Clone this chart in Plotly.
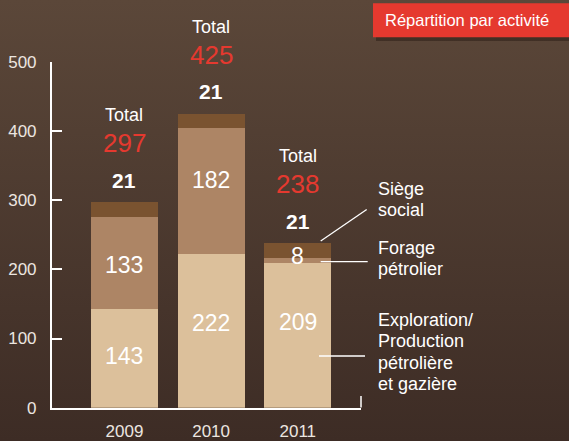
import base64
import plotly.graph_objects as go

W, H = 569, 441

# Data
years = ["2009", "2010", "2011"]
exploration = [143, 222, 209]
forage = [133, 182, 8]
siege = [21, 21, 21]
totals = [297, 425, 238]

col_explo = "#dcc09b"
col_forage = "#ad8565"
col_siege = "#7a5330"
red = "#e5392f"
font = "Liberation Sans, Arial, sans-serif"


def px(x):
    return x / W


def py(y):
    return 1 - y / H


fig = go.Figure()
for name, vals, col in [("Exploration/Production", exploration, col_explo),
                        ("Forage pétrolier", forage, col_forage),
                        ("Siège social", siege, col_siege)]:
    fig.add_trace(go.Bar(x=years, y=vals, name=name, marker_color=col,
                         marker_line_width=0, width=0.775, hoverinfo="skip"))

# gradient background as svg image
svg = ('<svg xmlns="http://www.w3.org/2000/svg" width="569" height="441">'
       '<defs><linearGradient id="g" x1="0" y1="0" x2="0" y2="1">'
       '<stop offset="0" stop-color="#5b4739"/><stop offset="1" stop-color="#3d2c25"/>'
       '</linearGradient></defs><rect width="569" height="441" fill="url(#g)"/></svg>')
src = "data:image/svg+xml;base64," + base64.b64encode(svg.encode()).decode()

ann = []
# totals above bars (x given as category index)
for i, (tot, top) in enumerate(zip(totals, siege)):
    ann.append(dict(x=i, y=tot, yshift=87, text="Total", showarrow=False,
                    font=dict(size=18, color="white", family=font), yanchor="middle"))
    ann.append(dict(x=i, y=tot, yshift=59, text=str(tot), showarrow=False,
                    font=dict(size=26, color=red, family=font), yanchor="middle"))
    ann.append(dict(x=i, y=tot, yshift=22, text="<b>%d</b>" % top, showarrow=False,
                    font=dict(size=21, color="white", family=font), yanchor="middle"))

# segment labels (nudged like the original)
shift_explo = [2, 8, 13]
shift_forage = [-2, 11, 0]
for i in range(len(years)):
    ann.append(dict(x=i, y=exploration[i] / 2, yshift=shift_explo[i], text=str(exploration[i]),
                    showarrow=False, font=dict(size=23, color="white", family=font)))
    if forage[i] > 20:
        ann.append(dict(x=i, y=exploration[i] + forage[i] / 2, yshift=shift_forage[i],
                        text=str(forage[i]), showarrow=False,
                        font=dict(size=23, color="white", family=font)))
    else:
        ann.append(dict(x=i, y=exploration[i] + forage[i] + siege[i] / 2, yshift=-6,
                        text=str(forage[i]), showarrow=False,
                        font=dict(size=23, color="white", family=font)))

# legend labels on the right
legend_lines = [(["Siège", "social"], 189), (["Forage", "pétrolier"], 248),
                (["Exploration/", "Production", "pétrolière", "et gazière"], 320)]
for lines, y0 in legend_lines:
    for k, t in enumerate(lines):
        ann.append(dict(xref="paper", yref="paper", x=px(376), y=py(y0 + k * 21.3),
                        xanchor="left", yanchor="middle", text=t, showarrow=False,
                        font=dict(size=18, color="white", family=font)))

# title box
ann.append(dict(xref="paper", yref="paper", x=px(383), y=py(20.5), xanchor="left",
                yanchor="middle", text="Répartition par activité", showarrow=False,
                font=dict(size=16.5, color="white", family=font)))

shapes = [
    dict(type="rect", xref="paper", yref="paper", x0=px(376), x1=px(572), y0=py(41),
         y1=py(6), fillcolor="rgba(20,10,5,0.35)", line_width=0, layer="below"),
    dict(type="rect", xref="paper", yref="paper", x0=px(373), x1=1, y0=py(37.3),
         y1=py(3.3), fillcolor=red, line_width=0),
    # leader lines
    dict(type="line", xref="paper", yref="paper", x0=px(320.7), y0=py(241),
         x1=px(366.7), y1=py(209.5), line=dict(color="white", width=1.3)),
    dict(type="line", xref="paper", yref="paper", x0=px(320.7), y0=py(261.7),
         x1=px(367.7), y1=py(261.7), line=dict(color="white", width=1.3)),
    dict(type="line", xref="paper", yref="paper", x0=px(319), y0=py(356),
         x1=px(365), y1=py(356), line=dict(color="white", width=1.3)),
    # right end tick of x axis
    dict(type="line", xref="paper", yref="paper", x0=px(361), y0=py(407.5),
         x1=px(361), y1=py(396), line=dict(color="white", width=1.5)),
]

fig.update_layout(
    barmode="stack",
    width=W, height=H,
    margin=dict(l=0, r=0, t=0, b=0),
    showlegend=False,
    paper_bgcolor="#4b382e",
    plot_bgcolor="rgba(0,0,0,0)",
    images=[dict(source=src, xref="paper", yref="paper", x=0, y=1, sizex=1, sizey=1,
                 sizing="stretch", layer="below", xanchor="left", yanchor="top")],
    xaxis=dict(domain=[px(51.7), px(361)], range=[-0.84, 2.73], type="category",
               showline=True, linecolor="white", linewidth=1.5, ticks="",
               showgrid=False, zeroline=False, ticklabelstandoff=7, automargin=False,
               tickfont=dict(size=17, color="#ece6e0", family=font)),
    yaxis=dict(domain=[py(407.7), py(61.7)], range=[0, 500], showline=True,
               linecolor="white", linewidth=1.5, ticks="inside", ticklen=11,
               tickwidth=1.5, tickcolor="white", tickvals=[0, 100, 200, 300, 400, 500],
               showgrid=False, zeroline=False, ticklabelstandoff=10, automargin=False,
               tickfont=dict(size=17, color="#ece6e0", family=font)),
    annotations=ann,
    shapes=shapes,
)

fig.write_html("out.html", config={"displayModeBar": False},
               post_script="document.body.style.margin='0';"
               "document.body.style.overflow='hidden';")
